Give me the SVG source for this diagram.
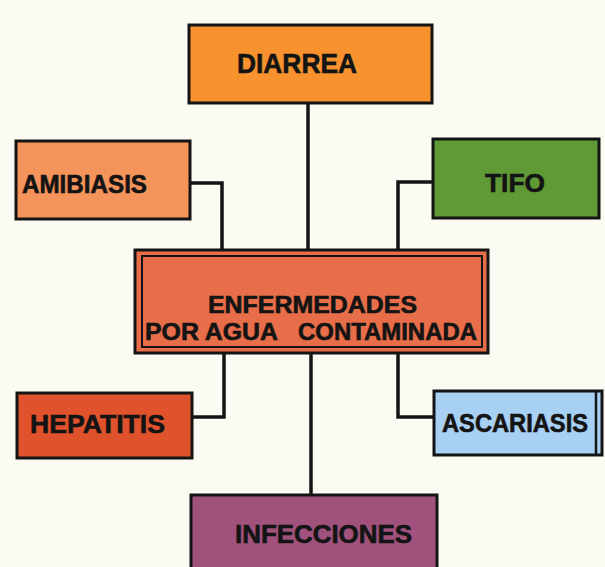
<svg xmlns="http://www.w3.org/2000/svg" width="605" height="567" viewBox="0 0 605 567">
<style>
.box{stroke:#141414;stroke-width:3}
.lbl{font-family:"Liberation Sans",Arial,sans-serif;font-weight:bold;fill:#141414;stroke:#141414;stroke-width:0.6}
.con{fill:none;stroke:#141414;stroke-width:3.5}
</style>
<rect x="0" y="0" width="605" height="567" fill="#fcfbf3"/>
<g id="connectors">
<path class="con" d="M308 103V250"/>
<path class="con" d="M190 183H222V250"/>
<path class="con" d="M433 182H398V250"/>
<path class="con" d="M224 353V417H192"/>
<path class="con" d="M398 353V417H434"/>
<path class="con" d="M311 353V495"/>
</g>
<g id="diarrea">
<rect class="box" x="189" y="25" width="243" height="78" fill="#f7922f"/>
<text class="lbl" x="237" y="73" font-size="27" textLength="120" lengthAdjust="spacingAndGlyphs">DIARREA</text>
</g>
<g id="amibiasis">
<rect class="box" x="16" y="141" width="174" height="78" fill="#f4935a"/>
<text class="lbl" x="22" y="193" font-size="25" textLength="125" lengthAdjust="spacingAndGlyphs">AMIBIASIS</text>
</g>
<g id="tifo">
<rect class="box" x="433" y="139" width="166" height="79" fill="#5f9a36"/>
<text class="lbl" x="485" y="192" font-size="26" textLength="60" lengthAdjust="spacingAndGlyphs">TIFO</text>
</g>
<g id="center">
<rect class="box" x="135" y="250" width="353" height="103" fill="#e76e49"/>
<rect x="142" y="256" width="340" height="91" fill="none" stroke="#141414" stroke-width="2"/>
<text class="lbl" x="208" y="313" font-size="23" textLength="209" lengthAdjust="spacingAndGlyphs">ENFERMEDADES</text>
<text class="lbl" x="145" y="340" font-size="23" textLength="133" lengthAdjust="spacingAndGlyphs">POR AGUA</text>
<text class="lbl" x="298" y="340" font-size="23" textLength="179" lengthAdjust="spacingAndGlyphs">CONTAMINADA</text>
</g>
<g id="hepatitis">
<rect class="box" x="17" y="393" width="175" height="65" fill="#e0522b"/>
<text class="lbl" x="30" y="433" font-size="25" textLength="135" lengthAdjust="spacingAndGlyphs">HEPATITIS</text>
</g>
<g id="ascariasis">
<rect class="box" x="434" y="391" width="168" height="64" fill="#a8d0f2"/>
<line x1="596" y1="391" x2="596" y2="455" stroke="#141414" stroke-width="2.5"/>
<text class="lbl" x="442" y="432" font-size="25" textLength="146" lengthAdjust="spacingAndGlyphs">ASCARIASIS</text>
</g>
<g id="infecciones">
<rect class="box" x="191" y="495" width="246" height="80" fill="#a0527d"/>
<text class="lbl" x="235" y="543" font-size="25" textLength="177" lengthAdjust="spacingAndGlyphs">INFECCIONES</text>
</g>
</svg>
